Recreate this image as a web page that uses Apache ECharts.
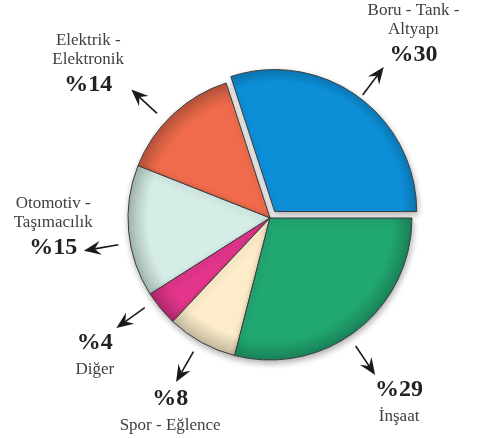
<!DOCTYPE html>
<html>
<head>
<meta charset="utf-8">
<script src="https://cdn.jsdelivr.net/npm/echarts@6/dist/echarts.min.js"></script>
<style>
  html, body { margin: 0; padding: 0; background: #fff; }
  #chart { width: 480px; height: 438px; }
</style>
</head>
<body>
<div id="chart"></div>
<script>
// sektör dağılımı (%)
const categories = ['Boru - Tank - Altyapı', 'Elektrik - Elektronik', 'Otomotiv - Taşımacılık', 'Diğer', 'Spor - Eğlence', 'İnşaat']
const values = [30, 14, 15, 4, 8, 29]
const nameLines = [['Boru - Tank -', 'Altyapı'], ['Elektrik -', 'Elektronik'], ['Otomotiv -', 'Taşımacılık'], ['Diğer'], ['Spor - Eğlence'], ['İnşaat']]
const percentLabels = ['%30', '%14', '%15', '%4', '%8', '%29']
const colors = ['#0d8fd8', '#ef6b4b', '#d5ece7', '#e2358b', '#fcecca', '#21a872']

// yerleşim ayarları
const CX = 270, CY = 218, R = 142
const OFFSET = 8
const percentFirst = [false, false, false, true, true, true]
const labelDist = [233, 238, 217, 222, 217, 224]
const labelNudge = [-2, 6.6, -3, -1.7, 1.4, -2.6]
const arrowNudge = [-1, 4, 4.6, -4, -1, -4]

const total = values.reduce((a, b) => a + b, 0)
const midAngles = []
let acc = 0
values.forEach(v => {
  midAngles.push((acc + v / 2) / total * 360)
  acc += v
})

const chart = echarts.init(document.getElementById('chart'))

function polar(deg, dist, cx = CX, cy = CY) {
  const a = deg * Math.PI / 180
  return [cx + Math.cos(a) * dist, cy - Math.sin(a) * dist]
}

function shade(hex, k) {
  const n = parseInt(hex.slice(1), 16)
  const f = c => Math.max(0, Math.min(255, Math.round(c * k)))
  const r = f(n >> 16), g = f((n >> 8) & 255), b = f(n & 255)
  return `rgb(${r}, ${g}, ${b})`
}

// dilim rengi: kenara doğru koyulaşan radyal geçiş
function sliceColor(i) {
  const c = i === 0 ? polar(midAngles[i], OFFSET) : [CX, CY]
  return new echarts.graphic.RadialGradient(c[0], c[1], R, [
    { offset: 0, color: colors[i] },
    { offset: 0.86, color: colors[i] },
    { offset: 1, color: shade(colors[i], 0.78) }
  ], true)
}

function renderLabel(params, api) {
  const i = params.dataIndex
  const children = []

  // ok
  const aDeg = midAngles[i] + arrowNudge[i]
  const tail = polar(aDeg, R + 12)
  const head = polar(aDeg, R + 47)
  const dx = head[0] - tail[0], dy = head[1] - tail[1]
  const len = Math.sqrt(dx * dx + dy * dy)
  const ux = dx / len, uy = dy / len
  const px = -uy, py = ux
  const back = [head[0] - ux * 17, head[1] - uy * 17]
  const notch = [head[0] - ux * 11, head[1] - uy * 11]
  children.push({
    type: 'line',
    shape: { x1: tail[0], y1: tail[1], x2: notch[0], y2: notch[1] },
    style: { stroke: '#1a1a1a', lineWidth: 1.6 }
  })
  children.push({
    type: 'polygon',
    shape: {
      points: [
        head,
        [back[0] + px * 7, back[1] + py * 7],
        notch,
        [back[0] - px * 7, back[1] - py * 7]
      ]
    },
    style: { fill: '#1a1a1a' }
  })

  // metin
  const c = polar(midAngles[i] + labelNudge[i], labelDist[i])
  const lines = []
  if (percentFirst[i]) {
    lines.push({ t: percentLabels[i], bold: true })
    nameLines[i].forEach(t => lines.push({ t, bold: false }))
  } else {
    nameLines[i].forEach(t => lines.push({ t, bold: false }))
    lines.push({ t: percentLabels[i], bold: true })
  }
  const heights = lines.map(l => l.bold ? 26 : 19)
  const gap = percentFirst[i] ? 4 : 3
  const totalH = heights.reduce((a, b) => a + b, 0) + gap
  let y = c[1] - totalH / 2
  lines.forEach((l, k) => {
    const h = heights[k]
    children.push({
      type: 'text',
      x: c[0],
      y: y + h / 2,
      style: {
        text: l.t,
        fill: l.bold ? '#222' : '#404040',
        fontFamily: 'Liberation Serif',
        fontSize: l.bold ? 24 : 17,
        fontWeight: l.bold ? 'bold' : 'normal',
        align: 'center',
        verticalAlign: 'middle'
      }
    })
    y += h
    if (l.bold && percentFirst[i]) y += gap
    if (!l.bold && !percentFirst[i] && k === lines.length - 2) y += gap
  })

  return { type: 'group', children }
}

const option = {
  animation: false,
  series: [
    {
      type: 'pie',
      center: [CX, CY],
      radius: R,
      startAngle: 0,
      clockwise: false,
      selectedMode: 'single',
      selectedOffset: OFFSET,
      silent: true,
      label: { show: false },
      labelLine: { show: false },
      itemStyle: {
        borderColor: '#3d3d3d',
        borderWidth: 1,
        shadowBlur: 6,
        shadowOffsetX: 1,
        shadowOffsetY: 3,
        shadowColor: 'rgba(0, 0, 0, 0.3)'
      },
      data: categories.map((name, i) => ({
        name,
        value: values[i],
        selected: i === 0,
        itemStyle: { color: sliceColor(i) }
      }))
    },
    {
      type: 'custom',
      coordinateSystem: 'none',
      silent: true,
      data: values,
      renderItem: renderLabel
    }
  ]
}

chart.setOption(option)
</script>
</body>
</html>
